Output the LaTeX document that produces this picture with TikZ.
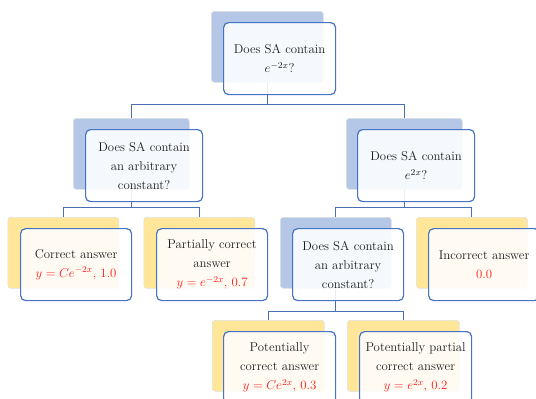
\RequirePackage{fix-cm}
\documentclass[tikz,border=0pt]{standalone}
\definecolor{bblue}{HTML}{B4C7E7}
\definecolor{byellow}{HTML}{FFE699}
\definecolor{fborder}{HTML}{4472C4}
\definecolor{conncol}{HTML}{4A6FB5}
\definecolor{txt}{HTML}{1E1E1E}
\definecolor{ans}{HTML}{FF1A1A}
\tikzset{
  backbox/.style={rectangle, rounded corners=3pt, draw=black!12, line width=0.6pt,
    minimum height=71pt, inner sep=0pt, anchor=north west},
  qback/.style={backbox, fill=bblue},
  aback/.style={backbox, fill=byellow},
  frontbox/.style={rectangle, rounded corners=5pt, draw=fborder, line width=1.2pt,
    fill=white, fill opacity=0.88, text opacity=1, minimum height=72pt, inner sep=1pt,
    anchor=north west, align=center, text=txt, font=\fontsize{12.8}{19}\selectfont},
  conn/.style={draw=conncol, line width=1.3pt},
}
\begin{document}
\begin{tikzpicture}[x=1pt,y=-1pt]
\useasboundingbox (0,0) rectangle (536,399);
\clip (0,0) rectangle (536,399);
% back boxes
\node[qback, minimum width=112pt] (topb) at (211,11) {};
\node[qback, minimum width=116pt] (l1b) at (73,118) {};
\node[qback, minimum width=116pt] (r1b) at (346,118) {};
\node[aback, minimum width=111pt] (ab) at (7.5,217) {};
\node[aback, minimum width=111pt] (bb) at (143.5,217) {};
\node[qback, minimum width=111pt] (r2b) at (280,217) {};
\node[aback, minimum width=111pt] (db) at (416,217) {};
\node[aback, minimum width=112pt] (eb) at (212,320) {};
\node[aback, minimum width=112pt] (fb) at (347,320) {};
% connectors
\draw[conn] (topb.south) -- ++(0,22) -| (l1b.north);
\draw[conn] (topb.south) -- ++(0,22) -| (r1b.north);
\draw[conn] (l1b.south) -- ++(0,18) -| (ab.north);
\draw[conn] (l1b.south) -- ++(0,18) -| (bb.north);
\draw[conn] (r1b.south) -- ++(0,18) -| (r2b.north);
\draw[conn] (r1b.south) -- ++(0,18) -| (db.north);
\draw[conn] (r2b.south) -- ++(0,23) -| (eb.north);
\draw[conn] (r2b.south) -- ++(0,23) -| (fb.north);
% front boxes
\node[frontbox, minimum width=112pt] (topf) at (223,22) {Does SA contain\\$e^{-2x}$?};
\node[frontbox, minimum width=117pt] (l1f) at (85,129) {Does SA contain\\an arbitrary\\constant?};
\node[frontbox, minimum width=117pt] (r1f) at (357,129) {Does SA contain\\$e^{2x}$?};
\node[frontbox, minimum width=111pt] (af) at (20,228) {Correct answer\\{\color{ans}$y=Ce^{-2x}$, 1.0}};
\node[frontbox, minimum width=111pt] (bf) at (156,228) {Partially correct\\answer\\{\color{ans}$y=e^{-2x}$, 0.7}};
\node[frontbox, minimum width=111pt] (r2f) at (292,228) {Does SA contain\\an arbitrary\\constant?};
\node[frontbox, minimum width=111pt] (df) at (428,228) {Incorrect answer\\{\color{ans}0.0}};
\node[frontbox, minimum width=112pt] (ef) at (223,331) {Potentially\\correct answer\\{\color{ans}$y=Ce^{2x}$, 0.3}};
\node[frontbox, minimum width=112pt] (ff) at (359,331) {Potentially partial\\correct answer\\{\color{ans}$y=e^{2x}$, 0.2}};
\end{tikzpicture}
\end{document}
